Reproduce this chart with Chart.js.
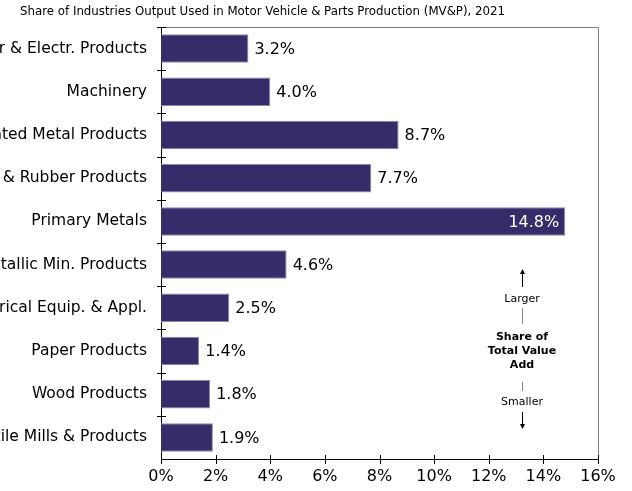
<!DOCTYPE html>
<html>
<head>
<meta charset="utf-8">
<script src="https://cdn.jsdelivr.net/npm/chart.js@4/dist/chart.umd.min.js"></script>
<style>
  html, body { margin: 0; padding: 0; background: #fff; overflow: hidden; }
  canvas { display: block; }
</style>
</head>
<body>
<canvas id="mvpChart" width="632" height="491"></canvas>
<script>
// Data
const industries = [
    'Computer & Electr. Products',
    'Machinery',
    'Fabricated Metal Products',
    'Plastics & Rubber Products',
    'Primary Metals',
    'Nonmetallic Min. Products',
    'Electrical Equip. & Appl.',
    'Paper Products',
    'Wood Products',
    'Textile Mills & Products'
];
const shareValues = [3.2, 4.0, 8.7, 7.7, 14.8, 4.6, 2.5, 1.4, 1.8, 1.9];
const xTicks = [0, 2, 4, 6, 8, 10, 12, 14, 16];

const subtitleText = 'Share of Industries Output Used in Motor Vehicle & Parts Production (MV&P), 2021';
const FONT = '"DejaVu Sans", Verdana, sans-serif';

// Subtitle, plot frame, crossing tick marks, value labels, side note
const decorations = {
    id: 'decorations',
    afterDatasetsDraw(chart) {
        const ctx = chart.ctx;
        const area = chart.chartArea;
        const xs = chart.scales.x;
        const ys = chart.scales.y;
        ctx.save();

        // subtitle
        ctx.fillStyle = '#000';
        ctx.font = '11.8px ' + FONT;
        ctx.textAlign = 'left';
        ctx.textBaseline = 'middle';
        ctx.fillText(subtitleText, 20, 12);

        // frame top/right
        ctx.strokeStyle = '#808080';
        ctx.lineWidth = 1;
        ctx.beginPath();
        ctx.moveTo(area.left, area.top + 0.5);
        ctx.lineTo(area.right + 0.5, area.top + 0.5);
        ctx.lineTo(area.right + 0.5, area.bottom);
        ctx.stroke();

        // tick marks crossing the axes
        ctx.strokeStyle = '#000';
        ctx.beginPath();
        const n = industries.length;
        for (let i = 0; i < n; i++) {
            const y = Math.round(ys.getPixelForValue(i) - (ys.getPixelForValue(1) - ys.getPixelForValue(0)) / 2) + 0.5;
            ctx.moveTo(area.left - 4, y);
            ctx.lineTo(area.left + 5, y);
        }
        xTicks.forEach(v => {
            const x = Math.round(xs.getPixelForValue(v)) + 0.5;
            ctx.moveTo(x, area.bottom - 4);
            ctx.lineTo(x, area.bottom + 5);
        });
        ctx.stroke();

        // value labels
        ctx.font = '16px ' + FONT;
        ctx.textBaseline = 'middle';
        const meta = chart.getDatasetMeta(0);
        meta.data.forEach((bar, i) => {
            const txt = shareValues[i].toFixed(1) + '%';
            const w = ctx.measureText(txt).width;
            if (bar.x + 6 + w > area.right) {
                ctx.fillStyle = '#fff';
                ctx.textAlign = 'right';
                ctx.fillText(txt, bar.x - 6, bar.y + 1);
            } else {
                ctx.fillStyle = '#000';
                ctx.textAlign = 'left';
                ctx.fillText(txt, bar.x + 6, bar.y + 1);
            }
        });

        // side note
        const cx = 522;
        ctx.fillStyle = '#000';
        ctx.textAlign = 'center';
        ctx.font = '11px ' + FONT;
        ctx.fillText('Larger', cx, 299);
        ctx.fillText('Smaller', cx, 402);
        ctx.font = 'bold 11px ' + FONT;
        ctx.fillText('Share of', cx, 337);
        ctx.fillText('Total Value', cx, 351);
        ctx.fillText('Add', cx, 365);

        ctx.strokeStyle = '#000';
        ctx.beginPath();
        ctx.moveTo(cx + 0.5, 273); ctx.lineTo(cx + 0.5, 287);
        ctx.moveTo(cx + 0.5, 412); ctx.lineTo(cx + 0.5, 425);
        ctx.stroke();
        ctx.beginPath();
        ctx.moveTo(cx + 0.5, 269); ctx.lineTo(cx - 2, 274); ctx.lineTo(cx + 3, 274); ctx.closePath();
        ctx.moveTo(cx + 0.5, 429); ctx.lineTo(cx - 2, 424); ctx.lineTo(cx + 3, 424); ctx.closePath();
        ctx.fill();

        ctx.strokeStyle = '#888';
        ctx.beginPath();
        ctx.moveTo(cx + 0.5, 308); ctx.lineTo(cx + 0.5, 324);
        ctx.moveTo(cx + 0.5, 382); ctx.lineTo(cx + 0.5, 391);
        ctx.stroke();

        ctx.restore();
    }
};

const ctx = document.getElementById('mvpChart').getContext('2d');
const mvpChart = new Chart(ctx, {
    type: 'bar',
    data: {
        labels: industries,
        datasets: [{
            data: shareValues,
            backgroundColor: '#372c6a',
            borderColor: '#8d86b3',
            borderWidth: 1,
            borderSkipped: 'start',
            categoryPercentage: 1,
            barPercentage: 0.66
        }]
    },
    options: {
        indexAxis: 'y',
        responsive: false,
        devicePixelRatio: 1,
        animation: false,
        layout: {
            padding: { top: 27, right: 34, bottom: 0, left: 0 }
        },
        scales: {
            x: {
                min: 0,
                max: 16,
                afterBuildTicks: scale => {
                    scale.ticks = xTicks.map(v => ({ value: v }));
                },
                afterFit: scale => { scale.height = 32; },
                grid: { display: false, drawTicks: false },
                border: { display: true, color: '#000', width: 1 },
                ticks: {
                    padding: 8,
                    color: '#000',
                    font: { family: FONT, size: 16 },
                    callback: v => v + '%'
                }
            },
            y: {
                afterFit: scale => { scale.width = 161; },
                grid: { display: false, drawTicks: false },
                border: { display: true, color: '#000', width: 1 },
                ticks: {
                    padding: 14,
                    color: '#000',
                    font: { family: FONT, size: 15.5 }
                }
            }
        },
        plugins: {
            legend: { display: false },
            tooltip: { enabled: false }
        }
    },
    plugins: [decorations]
});
</script>
</body>
</html>
